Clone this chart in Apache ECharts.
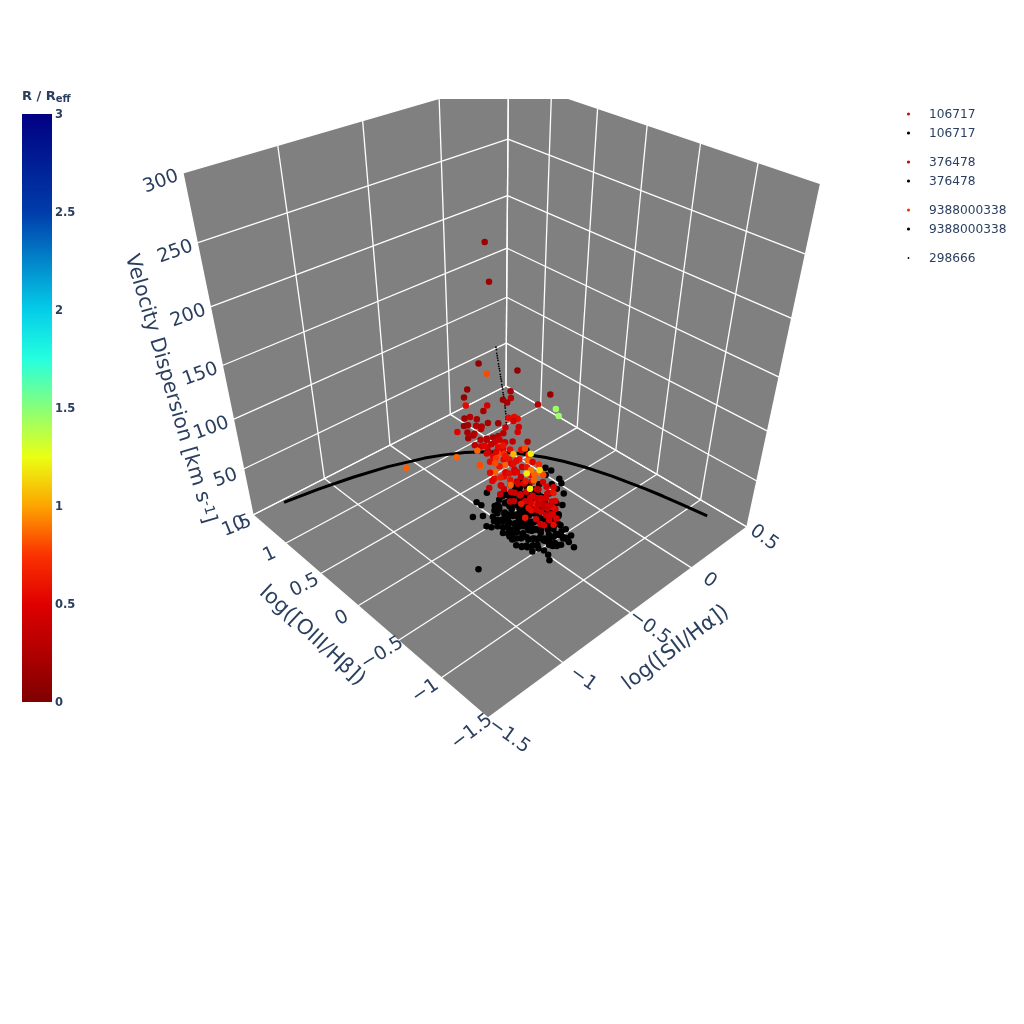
<!DOCTYPE html>
<html><head><meta charset="utf-8">
<style>html,body{margin:0;padding:0;background:#fff}#c{width:1024px;height:1024px}</style>
<script src="https://cdn.jsdelivr.net/npm/echarts@6/dist/echarts.min.js"></script>
</head><body><div id="c"></div>
<script>
// axis ticks
const xTicks=[-1.5,-1,-0.5,0,0.5];
const yTicks=[-1.5,-1,-0.5,0,0.5,1,1.5];
const zTicks=[0,50,100,150,200,250,300];
const cbTicks=[0,0.5,1,1.5,2,2.5,3];
const jetStops=['#800000','#b00000','#df0000','#fb3200','#fda400','#ebff14','#88ff79','#25ffdf','#04cde9','#0285ca','#003caa','#001e96','#000083'];
// demarcation line: [log SII/Ha, log OIII/Hb, sigma]
const demarcation=[[-1.5,.904,50],[-1.3,.856,50],[-1.1,.793,50],[-.9,.71,50],[-.7,.594,50],[-.6,.517,50],[-.5,.422,50],[-.4,.3,50],[-.3,.139,50],[-.2,-.085,50],[-.15,-.232,50],[-.1,-.414,50],[-.05,-.646,50],[0,-.95,50],[.02,-1.1,50],[.04,-1.271,50],[.063,-1.5,50]];
// galaxy 106717, spaxels coloured by R/Reff: [x,y,sigma,R]
const red106717=[[-.888,-.49,290,.15],[-.865,-.49,262,.15],[-.93,-.49,206,.1],[-.875,-.48,194,.8],[-.695,-.5,186,.1],[-1,-.49,190,.1],[-1.02,-.49,185,.1],[-.725,-.48,170,.2],[-.735,-.5,166,.3],[-.78,-.49,167,.15],[-.74,-.47,161,.2],[-.545,-.49,147,.25],[-.46,-.49,150,.1],[-.415,-.49,134,1.45],[-.392,-.49,126,1.45],[-1.005,-.48,177,.55],[-.91,-.5,167,.2],[-.88,-.49,169,.45],[-.975,-.47,165,.3],[-.945,-.49,162,.2],[-1.03,-.5,163,.15],[-.95,-.49,157,.3],[-.91,-.48,153,.25],[-1.065,-.49,160,.5],[-1.01,-.5,156,.2],[-1,-.49,150,.2],[-.95,-.47,149,.25],[-.885,-.49,141,.2],[-.85,-.5,140,.2],[-.81,-.49,138,.3],[-.77,-.48,137,.3],[-.81,-.49,149,.15],[-.75,-.5,150,.55],[-.705,-.49,147,.55],[-.675,-.48,143,.55],[-.71,-.49,144,.45],[-.68,-.5,137,.4],[-.68,-.49,132,.45],[-.75,-.47,140,.4],[-.61,-.49,118,.3],[-.72,-.5,127,.35],[-.765,-.49,129,.4],[-.915,-.48,136,.4],[-.88,-.49,133,.45],[-.89,-.5,141,.3],[-.9,-.49,136,.5],[-.825,-.48,133,.4],[-.87,-.49,128,.3],[-1,-.49,161,.2],[-.975,-.5,151,.25],[-.92,-.49,152,.3],[-.87,-.48,153,.2],[-1.02,-.49,168,.15],[-.93,-.5,144,.3],[-.855,-.49,134,.35],[-.795,-.48,133,.4],[-.96,-.49,141,.3]];
const red376478=[[-.945,-.49,135,.85],[-1.08,-.5,140,.85],[-.77,-.48,122,.5],[-.885,-.49,128,.45],[-.83,-.47,120,.5],[-.73,-.49,120,.55],[-.66,-.5,115,.55],[-.81,-.49,128,.55],[-.77,-.48,126,.6],[-.665,-.49,106,.6],[-.78,-.5,115,.55],[-.735,-.49,111,.6],[-.6,-.49,105,.7],[-.62,-.48,112,.8],[-.61,-.5,101,.85],[-.81,-.49,122,.8],[-.82,-.48,118,.75],[-.77,-.49,119,.7],[-.77,-.5,109,.85],[-.83,-.49,107,.85],[-.92,-.48,119,.85],[-.93,-.49,121,.8],[-.87,-.5,120,.55],[-.87,-.49,95,.4],[-.83,-.48,100,.55],[-.77,-.49,98,.55],[-.705,-.5,97,.45],[-.645,-.49,97,.4],[-.645,-.48,87,.4],[-.72,-.49,106,.45],[-.705,-.5,100,.45],[-.76,-.49,101,.5],[-.68,-.48,105,.55],[-.57,-.49,96,.5],[-.795,-.5,92,.45],[-.77,-.49,86,.4],[-.78,-.47,89,.45],[-.72,-.49,79,.4],[-.7,-.5,77,.4],[-.68,-.49,86,.4],[-.665,-.48,82,.45],[-.63,-.49,80,.45],[-.735,-.49,98,.55],[-.87,-.5,110,.55],[-.68,-.49,95,.5],[-.795,-.48,109,.6],[-.57,-.49,77,.5],[-.495,-.5,71,.45],[-.46,-.49,63,.5],[-.72,-.48,69,.35],[-.795,-.49,83,.4],[-.855,-.5,101,.5],[-.57,-.49,48,.55],[-.61,-.48,80,.6],[-.53,-.49,66,.45],[-.46,-.5,56,.5],[-.385,-.49,42,.5],[-.375,-.48,32,.45],[-.53,-.49,35,.45],[-.46,-.5,44,.5],[-.405,-.49,37,.55],[-.495,-.48,48,.5],[-.55,-.49,53,.6],[-.83,-.5,126,.5],[-.76,-.49,116,.6],[-.7,-.48,104,.55],[-.61,-.49,94,.6],[-.53,-.5,91,.7],[-.795,-.49,99,.65],[-.72,-.48,90,.6],[-.83,-.49,115,.8]];
const red9388000338=[[-.88,.5,59,.85],[-.585,-.49,85,.55],[-.585,-.5,63,.45],[-.52,-.49,65,.35],[-.435,-.48,54,.45],[-.405,-.49,58,.5],[-.42,-.5,45,.45],[-.53,-.49,57,.45],[-.645,-.48,70,.4],[-.7,-.49,68,.35],[-.62,-.5,45,.6],[-.59,-.49,52,.55],[-.57,-.48,55,.45],[-.52,-.49,56,.4],[-.48,-.5,47,.35],[-.495,-.49,40,.45],[-.44,-.48,38,.45],[-.42,-.49,31,.4],[-.46,-.5,34,.4],[-.37,-.49,22,.5],[-.42,-.48,24,.5],[-.39,-.49,17,.55],[-.41,-.5,53,.6],[-.53,-.49,45,.45],[-.51,-.48,48,.4],[-.47,-.49,43,.35],[-.435,-.5,42,.4],[-.4,-.49,29,.45],[-.555,-.48,61,.45],[-.61,-.49,70,.45],[-.66,-.5,71,.45],[-.46,-.49,51,.4],[-.61,-.48,60,.45],[-.495,-.49,54,.45],[-.435,-.5,29,.45],[-.495,-.49,27,.4],[-.46,-.48,22,.45],[-.645,-.49,61,.6],[-.73,-.5,87,.85],[-.555,-.49,83,.85],[-.55,-.48,76,.85],[-.51,-.49,81,.9],[-.495,-.5,78,.8],[-.58,-.49,89,.9],[-.51,-.48,83,1.15],[-.61,-.49,88,1.2],[-.59,-.5,72,1.2],[-.585,-.49,105,1.2],[-.7,-.48,113,1.05]];
// same galaxies, all spaxels: [x,y,sigma]
const black106717=[[-.61,-.2,50],[-.57,-.21,47],[-.53,-.19,53],[-.49,-.2,49],[-.46,-.22,52],[-.67,-.26,48],[-.63,-.25,53],[-.6,-.27,46],[-.56,-.26,51],[-.52,-.24,49],[-.48,-.27,54],[-.45,-.26,47],[-.73,-.32,51],[-.69,-.31,48],[-.66,-.33,53],[-.62,-.32,46],[-.58,-.3,50],[-.55,-.33,54],[-.51,-.32,47],[-.47,-.31,52],[-.44,-.33,49],[-.77,-.38,47],[-.74,-.37,52],[-.7,-.39,49],[-.66,-.38,54],[-.63,-.36,46],[-.59,-.39,51],[-.55,-.38,48],[-.52,-.37,53],[-.48,-.39,47],[-.45,-.38,50],[-.78,-.44,53],[-.74,-.43,47],[-.71,-.45,51],[-.67,-.44,49],[-.63,-.42,54],[-.6,-.45,46],[-.56,-.44,52],[-.53,-.43,48],[-.49,-.45,53],[-.46,-.44,50],[-.266,-.194,50],[-.26,-.252,50],[-.279,-.375,50],[-.3,-.429,50],[-.344,-.384,50],[-.353,-.455,50],[-.311,-.264,50],[-.394,-.314,50],[-.355,-.536,50],[-.412,-.456,50],[-.43,-.631,50],[-.442,-.581,50],[-.23,.09,50],
[-.64,-.23,49],[-.6,-.22,52],[-.56,-.24,47],[-.52,-.23,51],[-.48,-.22,48],[-.71,-.29,52],[-.67,-.28,47],[-.64,-.3,50],[-.6,-.29,53],[-.56,-.27,48],[-.53,-.3,51],[-.49,-.29,46],[-.45,-.28,52],[-.76,-.35,49],[-.72,-.34,53],[-.68,-.36,47],[-.64,-.35,51],[-.61,-.33,49],[-.57,-.36,52],[-.53,-.35,47],[-.5,-.34,53],[-.46,-.36,50],[-.78,-.41,51],[-.76,-.4,47],[-.72,-.42,53],[-.69,-.41,49],[-.65,-.39,52],[-.61,-.42,48],[-.58,-.41,50],[-.54,-.4,46],[-.51,-.42,52],[-.47,-.41,49]];
const black376478=[[-.78,-.5,49],[-.74,-.49,53],[-.7,-.51,47],[-.67,-.5,52],[-.63,-.48,48],[-.6,-.51,54],[-.56,-.5,46],[-.52,-.49,51],[-.48,-.51,49],[-.78,-.56,52],[-.75,-.55,47],[-.71,-.57,53],[-.67,-.56,49],[-.64,-.54,46],[-.6,-.57,52],[-.56,-.56,48],[-.52,-.55,54],[-.48,-.57,47],[-.79,-.62,48],[-.75,-.61,53],[-.72,-.63,46],[-.68,-.62,51],[-.64,-.6,49],[-.61,-.63,54],[-.57,-.62,47],[-.53,-.61,52],[-.49,-.63,50],[-.844,-.255,50],[-.8,-.3,50],[-.653,-.105,50],[-.748,-.139,50],[-.746,-.192,50],[-.828,-.445,50],[-.841,-.409,50],[-.81,-.62,50],
[-.8,-.47,50],[-.76,-.46,53],[-.72,-.48,47],[-.69,-.47,51],[-.65,-.45,48],[-.62,-.48,52],[-.58,-.47,46],[-.54,-.46,50],[-.5,-.48,53],[-.47,-.47,49],[-.8,-.53,47],[-.76,-.52,51],[-.72,-.54,49],[-.69,-.53,53],[-.65,-.51,47],[-.62,-.54,50],[-.58,-.53,52],[-.54,-.52,48],[-.5,-.54,51],[-.8,-.59,50],[-.77,-.58,46],[-.73,-.6,52],[-.69,-.59,48],[-.66,-.57,53],[-.62,-.6,47],[-.58,-.59,50],[-.54,-.58,52],[-.5,-.6,48]];
const black9388000338=[[-.8,-.68,51],[-.76,-.67,47],[-.72,-.69,53],[-.69,-.68,49],[-.65,-.66,46],[-.61,-.69,52],[-.57,-.68,48],[-.54,-.67,54],[-.5,-.69,50],[-.8,-.74,47],[-.76,-.73,52],[-.73,-.75,49],[-.69,-.74,54],[-.65,-.72,46],[-.61,-.75,51],[-.57,-.74,48],[-.53,-.73,53],[-.8,-.8,50],[-.76,-.79,47],[-.72,-.81,53],[-.68,-.8,48],[-.64,-.78,52],[-.6,-.81,46],[-.56,-.8,51],[-.76,-.86,49],[-.72,-.85,53],[-.69,-.87,47],[-.65,-.86,51],[-.61,-.84,48],[-.57,-.87,52],[-.7,-.92,50],[-.66,-.91,47],[-.63,-.93,52],[-.6,-.92,49],[-.804,-.861,50],[-.763,-.968,50],[-.787,-1.017,50],[-1.09,-.729,50],[-.627,-1.041,50],[-.573,-.933,50],
[-.81,-.65,49],[-.77,-.64,52],[-.74,-.66,47],[-.7,-.65,51],[-.66,-.63,48],[-.63,-.66,53],[-.59,-.65,46],[-.55,-.64,50],[-.51,-.66,52],[-.82,-.71,48],[-.78,-.7,51],[-.74,-.72,47],[-.71,-.71,53],[-.67,-.69,49],[-.63,-.72,52],[-.59,-.71,46],[-.55,-.7,50],[-.52,-.72,53],[-.82,-.77,50],[-.78,-.76,47],[-.74,-.78,52],[-.71,-.77,48],[-.67,-.75,53],[-.63,-.78,46],[-.59,-.77,51],[-.55,-.76,49],[-.78,-.83,52],[-.74,-.82,48],[-.7,-.84,50],[-.66,-.83,47],[-.62,-.81,53],[-.58,-.84,49],[-.74,-.89,47],[-.7,-.88,52],[-.67,-.9,49],[-.63,-.89,53],[-.59,-.87,46],[-.69,-.95,51],[-.65,-.94,48],[-.62,-.96,52],[-.6,-.95,47]];
// galaxy 298666
const black298666=[[-.825,-.49,212],[-.822,-.49,210],[-.82,-.49,207],[-.817,-.49,205],[-.815,-.49,203],[-.812,-.49,201],[-.809,-.49,198],[-.807,-.49,196],[-.804,-.49,194],[-.801,-.49,192],[-.798,-.49,189],[-.796,-.49,187],[-.793,-.49,185],[-.79,-.49,183],[-.788,-.49,180],[-.785,-.49,178],[-.782,-.49,176],[-.78,-.49,173],[-.777,-.49,171],[-.775,-.49,169],[-.772,-.49,166],[-.77,-.49,164],[-.767,-.49,161],[-.765,-.49,159],[-.763,-.49,156],[-.761,-.49,154],[-.76,-.49,151],[-.759,-.49,149],[-.758,-.49,146],[-.757,-.49,144]];
// legend
const legendNames=['106717','106717','376478','376478','9388000338','9388000338','298666'];
const legendColors=['#c81010','#000000','#b80808','#000000','#fb3200','#000000','#000000'];

const xRange=[-1.5,.5], yRange=[-1.5,1.5], zRange=[0,300];
// perspective camera of the scene, on the unit cube
const camera=[[488,425.9,-175.2,-137.3],[718,-73.3,-81.2,-471],[1,.2234,.2365,-.277]];
function project(x,y,z){
  const u=(x-xRange[0])/(xRange[1]-xRange[0]),v=(y-yRange[0])/(yRange[1]-yRange[0]),w=(z-zRange[0])/(zRange[1]-zRange[0]);
  const r=camera.map(c=>c[0]+c[1]*u+c[2]*v+c[3]*w);
  return [r[0]/r[2],r[1]/r[2]];
}
const xa=xRange[0],xb=xRange[1],ya=yRange[0],yb=yRange[1],za=zRange[0],zb=zRange[1];
const scene=[];
scene.push({t:'p',pts:[[xa,ya,za],[xb,ya,za],[xb,yb,za],[xa,yb,za]]});
scene.push({t:'p',pts:[[xa,yb,za],[xb,yb,za],[xb,yb,zb],[xa,yb,zb]]});
scene.push({t:'p',pts:[[xb,ya,za],[xb,yb,za],[xb,yb,zb],[xb,ya,zb]]});
xTicks.forEach(x=>{scene.push({t:'l',pts:[[x,ya,za],[x,yb,za]]});scene.push({t:'l',pts:[[x,yb,za],[x,yb,zb]]});});
yTicks.forEach(y=>{scene.push({t:'l',pts:[[xa,y,za],[xb,y,za]]});scene.push({t:'l',pts:[[xb,y,za],[xb,y,zb]]});});
zTicks.forEach(z=>{scene.push({t:'l',pts:[[xa,yb,z],[xb,yb,z]]});scene.push({t:'l',pts:[[xb,yb,z],[xb,ya,z]]});});

const FONT='"DejaVu Sans",Verdana,sans-serif', INK='#2a3f5f', TICK=19, TITLE=21, ZTITLE=20.4;
const fmt=v=>String(v).replace('-','\u2212');
const texts=[];
zTicks.forEach(z=>{const p=project(xa,yb,z),s=String(z);texts.push({s,x:p[0]-10-4*s.length,y:p[1]+9,r:20});});
yTicks.forEach(y=>{const p=project(xa,y,za);texts.push({s:fmt(y),x:p[0]-16,y:p[1]+11+(1.5-y)*1,r:22+5*(1.5-y)});});
xTicks.forEach(x=>{const p=project(x,ya,za);texts.push({s:fmt(x),x:p[0]+17+(.5-x)*2,y:p[1]+11+(.5-x)*3.5,r:-36});});
texts.push({s:'log([OIII/H\u03b2])',x:312,y:636,r:-43,f:TITLE});
texts.push({s:'log([SII/H\u03b1])',x:676,y:648,r:37,f:TITLE});
texts.push({s:'{a|Velocity Dispersion [km s}{b|-1}{a|]}',x:170,y:389,r:-73.6,f:ZTITLE,rich:true});

const scat=(name,arr,size)=>({name,type:'scatter',symbolSize:size,itemStyle:{color:'#000',opacity:1},z:3,silent:true,clip:true,
  data:arr.map(d=>project(d[0],d[1],d[2]))});
const col=(name,arr)=>({name,type:'scatter',symbolSize:6.5,itemStyle:{opacity:1},z:5,silent:true,clip:true,
  data:arr.map(d=>project(d[0],d[1],d[2]).concat(d[3])),encode:{x:0,y:1}});

const cbTop=114,cbH=588;
const cbY=v=>cbTop+(3-v)/3*cbH+1;
const graphic=[];
graphic.push({type:'rect',shape:{x:22,y:cbTop,width:30,height:cbH},style:{fill:new echarts.graphic.LinearGradient(0,1,0,0,jetStops.map((c,i)=>({offset:i/(jetStops.length-1),color:c})))}});
cbTicks.forEach(v=>graphic.push({type:'text',x:55,y:cbY(v),style:{text:String(v),fontSize:11.5,fontWeight:'bold',fontFamily:FONT,fill:INK,verticalAlign:'middle'}}));
graphic.push({type:'text',x:22,y:97,style:{text:'R / R{s|eff}',fontSize:13,fontWeight:'bold',fontFamily:FONT,fill:INK,verticalAlign:'middle',rich:{s:{fontSize:10,fontWeight:'bold',fontFamily:FONT,fill:INK,verticalAlign:'bottom',padding:[5,0,0,0]}}}});
const legendY=[115,134,163,182,211,230,259];
legendNames.forEach((n,i)=>{
  graphic.push({type:'circle',shape:{cx:908.5,cy:legendY[i]-1,r:i===6?.9:1.6},style:{fill:legendColors[i]}});
  graphic.push({type:'text',x:929,y:legendY[i],style:{text:n,fontSize:12.2,fontFamily:FONT,fill:INK,verticalAlign:'middle'}});
});

const chart=echarts.init(document.getElementById('c'),null,{renderer:'canvas',width:1024,height:1024});
chart.setOption({
  animation:false,backgroundColor:'#fff',
  grid:{left:0,right:0,top:99,bottom:0},
  xAxis:{type:'value',min:0,max:1024,show:false},
  yAxis:{type:'value',min:99,max:1024,inverse:true,show:false},
  tooltip:{show:false},
  visualMap:{type:'continuous',show:false,min:0,max:3,seriesIndex:[6,7,8],dimension:2,inRange:{color:jetStops}},
  graphic,
  series:[
    {type:'custom',name:'scene',z:1,silent:true,clip:true,data:scene.map((s,i)=>[i]),
      renderItem(p,api){
        const s=scene[api.value(0)];
        const pts=s.pts.map(q=>api.coord(project(q[0],q[1],q[2])));
        if(s.t==='p')return{type:'polygon',shape:{points:pts},style:{fill:'#808080'}};
        return{type:'line',shape:{x1:pts[0][0],y1:pts[0][1],x2:pts[1][0],y2:pts[1][1]},style:{stroke:'#fff',lineWidth:1.3}};
      }},
    {type:'line',name:'demarcation',z:2,silent:true,showSymbol:false,symbol:'none',lineStyle:{color:'#000',width:3},data:demarcation.map(d=>project(d[0],d[1],d[2]))},
    scat('298666',black298666,1.8),
    scat('106717',black106717,6.5),
    scat('376478',black376478,6.5),
    scat('9388000338',black9388000338,6.5),
    col('106717',red106717),col('376478',red376478),col('9388000338',red9388000338),
    {type:'custom',name:'labels',z:6,silent:true,clip:false,data:texts.map((t,i)=>[i]),
      renderItem(p,api){
        const t=texts[api.value(0)],c=api.coord([t.x,t.y]);
        const style={text:t.s,fontSize:t.f||TICK,fontFamily:FONT,fill:INK,align:'center',verticalAlign:'middle'};
        if(t.rich)style.rich={a:{fontSize:t.f,fontFamily:FONT,fill:INK},b:{fontSize:14,fontFamily:FONT,fill:INK,verticalAlign:'top'}};
        return{type:'text',x:c[0],y:c[1],rotation:t.r*Math.PI/180,style};
      }}
  ]
});
</script></body></html>
